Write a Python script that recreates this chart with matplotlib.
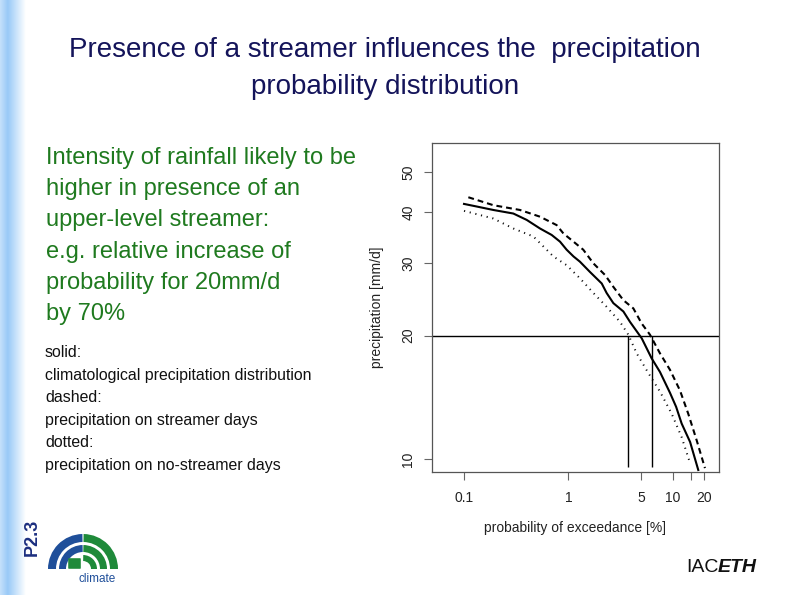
"""Slide P2.3: streamer influence on precipitation exceedance probability."""
import numpy as np
import matplotlib
matplotlib.use('Agg')
import matplotlib.pyplot as plt
from matplotlib.patches import Wedge, FancyBboxPatch
from matplotlib.ticker import FixedLocator, NullLocator, FixedFormatter

plt.rcParams['font.family'] = ['Liberation Sans', 'DejaVu Sans']

# --- data (probability of exceedance [%], precip [mm/d]) ---
prob_clim = [0.10, 0.132, 0.191, 0.297, 0.399, 0.535, 0.692, 0.832, 0.963,
             1.12, 1.29, 1.61, 2.09, 2.33, 2.70, 3.37, 3.90, 5.05, 6.29,
             7.56, 9.43, 10.8, 12.2, 14.7, 17.6]
precip_clim = [41.9, 41.3, 40.5, 39.7, 38.3, 36.5, 35.2, 33.9, 32.4,
               31.2, 30.3, 28.6, 26.8, 25.4, 24.0, 22.9, 21.6, 19.7, 17.6,
               16.3, 14.5, 13.4, 12.2, 11.0, 9.4]

prob_streamer = [0.110, 0.191, 0.344, 0.535, 0.773, 0.896, 1.12, 1.39, 1.74,
                 2.25, 2.70, 3.37, 4.20, 5.05, 6.06, 7.56, 9.43, 11.75,
                 14.1, 17.0, 20.4]
precip_streamer = [43.5, 41.6, 40.5, 39.0, 37.2, 35.5, 33.9, 32.4, 30.0,
                   28.1, 26.3, 24.4, 23.3, 21.4, 20.1, 18.1, 16.5, 14.7,
                   12.9, 11.1, 9.5]

prob_nostreamer = [0.10, 0.191, 0.297, 0.462, 0.576, 0.718, 0.963, 1.29, 1.74,
                   2.33, 3.13, 3.76, 4.52, 5.85, 7.56, 9.78, 12.2, 14.7]
precip_nostreamer = [40.3, 38.6, 36.5, 34.9, 33.0, 31.2, 29.7, 27.6, 25.4,
                     23.5, 21.6, 20.1, 18.1, 16.2, 14.6, 12.9, 11.3, 9.76]

threshold = 20
exceed_at_threshold = [3.76, 6.38]   # no-streamer, streamer
vline_bottom = 9.58

x_ticks = [0.1, 1, 5, 10, 15, 20]
x_ticklabels = ['0.1', '1', '5', '10', '', '20']
y_ticks = [10, 20, 30, 40, 50]

title_lines = ['Presence of a streamer influences the  precipitation',
               'probability distribution']
green_lines = ['Intensity of rainfall likely to be',
               'higher in presence of an',
               'upper-level streamer:',
               'e.g. relative increase of',
               'probability for 20mm/d',
               'by 70%']
legend_lines = ['solid:', 'climatological precipitation distribution',
                'dashed:', 'precipitation on streamer days',
                'dotted:', 'precipitation on no-streamer days']

W, H = 794, 595
fig = plt.figure(figsize=(W / 100, H / 100), dpi=100)

# slide layer in pixel coordinates
bg = fig.add_axes([0, 0, 1, 1], zorder=0)
bg.set_xlim(0, W)
bg.set_ylim(H, 0)
bg.axis('off')

# blue gradient band at left edge
grad = np.linspace(0, 1, 60)
band = np.clip(1.0 - np.abs(grad - 0.3) / 0.7, 0, 1)
rgb = np.ones((1, 60, 3))
base = np.array([0.60, 0.79, 0.97])
rgb[0] = 1 - band[:, None] * (1 - base)
bg.imshow(rgb, extent=(0, 26, H, 0), aspect='auto', interpolation='bilinear')

bg.text(32, 537, 'P2.3', rotation=90, ha='center', va='center',
        fontsize=13, fontweight='bold', color='#1c2f80')

for i, line in enumerate(title_lines):
    bg.text(385, 50 + i * 37, line, ha='center', va='center',
            fontsize=20, color='#14145a')

for i, line in enumerate(green_lines):
    bg.text(46, 164 + i * 31.2, line, ha='left', va='baseline',
            fontsize=17, color='#1f7a1f')

for i, line in enumerate(legend_lines):
    bg.text(45, 357 + i * 22.6, line, ha='left', va='baseline',
            fontsize=11.4, color='#111111')

# logo: rings, blue on the left, green on the right (y axis inverted)
cx, cy = 83, 569
for r, w in [(35, 8), (24, 7)]:
    bg.add_patch(Wedge((cx, cy), r, 180, 269, width=w,
                       facecolor='#1f4f9a', edgecolor='none'))
    bg.add_patch(Wedge((cx, cy), r, 271, 360, width=w,
                       facecolor='#1f8a3a', edgecolor='none'))
bg.add_patch(Wedge((cx, cy), 14, 271, 360, width=6,
                   facecolor='#1f8a3a', edgecolor='none'))
bg.add_patch(FancyBboxPatch((69, 559), 11, 9, boxstyle='round,pad=0.8',
                            facecolor='#1f8a3a', edgecolor='none'))
bg.text(97, 579, 'climate', ha='center', va='center', fontsize=8.5,
        color='#1f4f9a')

bg.text(686, 567, 'IAC', ha='left', va='center', fontsize=14, color='#111111')
bg.text(718, 567, 'ETH', ha='left', va='center', fontsize=14,
        fontweight='bold', style='italic', color='#111111')

# --- the R-style plot ---
ax = fig.add_axes([431.7 / W, 1 - 471.7 / H, 287.6 / W, 328.4 / H], zorder=1)
ax.set_xscale('log')
ax.set_yscale('log')
ax.set_xlim(0.049, 28.0)
ax.set_ylim(9.31, 58.9)
ax.patch.set_alpha(0)

ax.plot(prob_clim, precip_clim, color='black', lw=1.5, ls='-')
ax.plot(prob_streamer, precip_streamer, color='black', lw=1.5,
        ls=(0, (2.8, 1.9)))
ax.plot(prob_nostreamer, precip_nostreamer, color='#111111', lw=1.4,
        ls=(0, (0.6, 2.4)))
ax.axhline(threshold, color='black', lw=1.0)
ax.vlines(exceed_at_threshold, vline_bottom, threshold, color='black', lw=1.0)

ax.xaxis.set_major_locator(FixedLocator(x_ticks))
ax.xaxis.set_major_formatter(FixedFormatter(x_ticklabels))
ax.xaxis.set_minor_locator(NullLocator())
ax.yaxis.set_major_locator(FixedLocator(y_ticks))
ax.yaxis.set_major_formatter(FixedFormatter([str(v) for v in y_ticks]))
ax.yaxis.set_minor_locator(NullLocator())
ax.tick_params(axis='both', direction='out', length=5.8, width=0.8,
               color='#666666', labelsize=10, labelcolor='#222222')
ax.tick_params(axis='x', pad=8)
ax.tick_params(axis='y', pad=6)
for lab in ax.get_yticklabels():
    lab.set_rotation(90)
    lab.set_va('center')
for sp in ax.spines.values():
    sp.set_color('#555555')
    sp.set_linewidth(0.9)

ax.set_xlabel('probability of exceedance [%]', fontsize=10, color='#222222')
ax.set_ylabel('precipitation [mm/d]', fontsize=10, color='#222222')
ax.xaxis.set_label_coords(0.5, -0.171)
ax.xaxis.label.set_va('center')
ax.yaxis.set_label_coords(-0.191, 0.5)
ax.yaxis.label.set_va('center')

fig.savefig('out.png', dpi=100)
